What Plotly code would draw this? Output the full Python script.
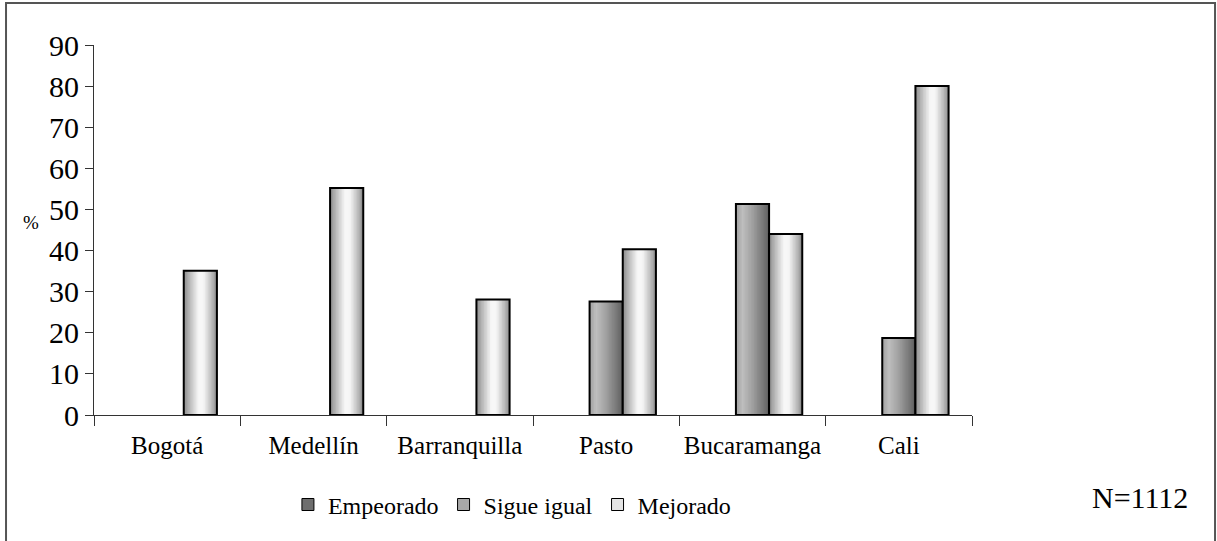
import plotly.graph_objects as go

# datos (%)
categories = ["Bogotá", "Medellín", "Barranquilla", "Pasto", "Bucaramanga", "Cali"]
empeorado = [0, 0, 0, 0, 0, 0]
sigue_igual = [0, 0, 0, 27.6, 51.3, 18.7]
mejorado = [35.1, 55.2, 28.1, 40.3, 44.0, 80.0]
y_ticks = [0, 10, 20, 30, 40, 50, 60, 70, 80, 90]
n_label = "N=1112"

FONT = "Liberation Serif, Times New Roman, serif"
GROUP_W = 0.68
N_STRIPS = 22


def lerp_gray(stops, t):
    # stops: lista de (posicion, nivel de gris 0-255)
    for (t0, g0), (t1, g1) in zip(stops, stops[1:]):
        if t0 <= t <= t1:
            g = g0 + (g1 - g0) * (t - t0) / (t1 - t0)
            g = int(round(g))
            return f"rgb({g},{g},{g})"
    g = stops[-1][1]
    return f"rgb({g},{g},{g})"


# perfiles de degradado (efecto cilindro)
grad_dark = [(0, 120), (0.25, 140), (1, 70)]
grad_mid = [(0, 160), (0.2, 190), (0.5, 160), (1, 95)]
grad_light = [(0, 140), (0.2, 190), (0.45, 248), (0.6, 245), (0.85, 185), (1, 140)]

series = [
    ("Empeorado", empeorado, 0, grad_dark, "#6e6e6e"),
    ("Sigue igual", sigue_igual, 1, grad_mid, "#a8a8a8"),
    ("Mejorado", mejorado, 2, grad_light, "#e4e4e4"),
]

fig = go.Figure()

# entradas de leyenda
for name, vals, slot, stops, swatch in series:
    fig.add_trace(go.Bar(
        x=categories, y=[None] * len(categories), name=name,
        marker=dict(color=swatch, line=dict(color="black", width=1)),
        hoverinfo="skip",
    ))

slot_w = GROUP_W / 3
for name, vals, slot, stops, swatch in series:
    ys = [v if v else None for v in vals]
    if all(v is None for v in ys):
        continue
    left = -GROUP_W / 2 + slot * slot_w
    sw = slot_w / N_STRIPS
    for j in range(N_STRIPS):
        t = (j + 0.5) / N_STRIPS
        w = sw * 1.5 if j < N_STRIPS - 1 else sw
        fig.add_trace(go.Bar(
            x=categories, y=ys, offset=left + j * sw, width=w,
            marker=dict(color=lerp_gray(stops, t), line=dict(width=0)),
            showlegend=False, hoverinfo="skip",
        ))
    # contorno
    fig.add_trace(go.Bar(
        x=categories, y=ys, offset=left, width=slot_w, name=name,
        marker=dict(color="rgba(0,0,0,0)", line=dict(color="black", width=2)),
        showlegend=False,
    ))

fig.update_layout(
    barmode="overlay",
    width=1217, height=541,
    margin=dict(l=94, r=245, t=45, b=126, autoexpand=False),
    paper_bgcolor="white", plot_bgcolor="white",
    font=dict(family=FONT, color="black"),
    legend=dict(
        orientation="h", x=0.476, y=-0.243, xanchor="center", yanchor="middle",
        font=dict(family=FONT, size=24), itemwidth=30, bgcolor="rgba(0,0,0,0)",
    ),
    xaxis=dict(
        showline=True, linecolor="#333", linewidth=1,
        ticks="outside", tickson="boundaries", ticklen=10, tickcolor="#333",
        tickfont=dict(family=FONT, size=25), tickangle=0, ticklabelstandoff=8,
        showgrid=False,
    ),
    yaxis=dict(
        range=[0, 90], tickvals=y_ticks, showline=True, linecolor="#333",
        linewidth=1, ticks="outside", ticklen=8, tickcolor="#333",
        tickfont=dict(family=FONT, size=30), showgrid=False, zeroline=False,
    ),
)

fig.add_annotation(text="%", xref="paper", yref="paper", x=-0.072, y=0.519,
                   xanchor="center", yanchor="middle",
                   showarrow=False, font=dict(family=FONT, size=19))
fig.add_annotation(text=n_label, xref="paper", yref="paper", x=1.191, y=-0.224,
                   xanchor="center", yanchor="middle",
                   showarrow=False, font=dict(family=FONT, size=30))

# marco exterior
fig.add_shape(type="rect", xref="paper", yref="paper",
              x0=-0.1002, x1=1.2768, y0=-0.5, y1=1.1135,
              line=dict(color="#555", width=2))

# quitar el margen por defecto del <body> para que el gráfico empiece en (0, 0)
fig.write_html("out.html", config={"displayModeBar": False},
               post_script="document.body.style.margin = '0';")
